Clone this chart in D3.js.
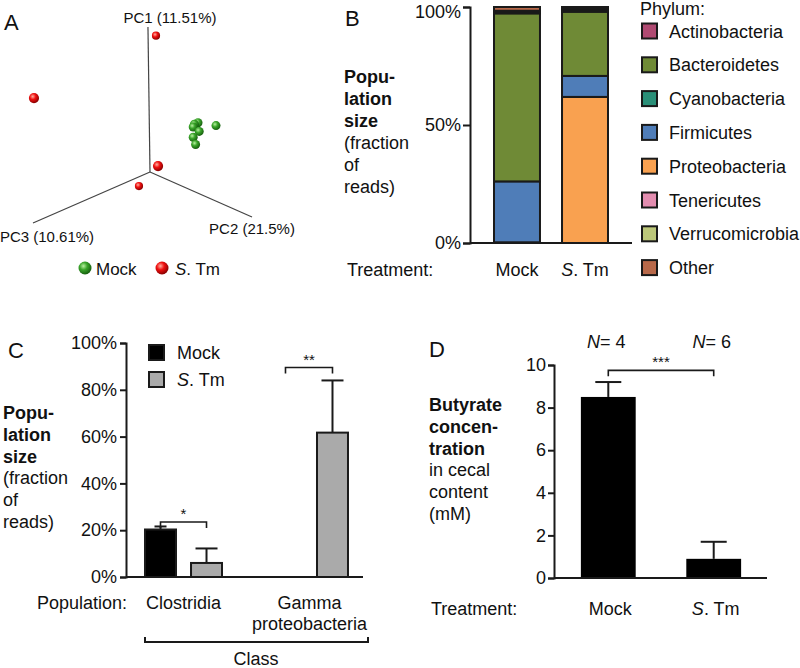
<!DOCTYPE html>
<html><head><meta charset="utf-8">
<script src="https://cdn.jsdelivr.net/npm/d3@7"></script>
<style>
body{margin:0;background:#fff;}
svg text{font-family:"Liberation Sans",Arial,sans-serif;fill:#111;}
</style></head>
<body>
<svg id="c" width="800" height="668"></svg>
<script>
// ---------- DATA ----------
// Panel A: PCoA projected coordinates (screen-plane projection, arbitrary units)
const pcAxes = [
  {name:"PC1 (11.51%)", x:-0.017, y:1.0},
  {name:"PC2 (21.5%)",  x:0.85,  y:-0.31},
  {name:"PC3 (10.61%)", x:-0.975, y:-0.352}
];
const mockPoints = [
  {x:0.40,y:0.34,d:0.5},{x:0.37,y:0.33,d:0.5},{x:0.36,y:0.31,d:0.5},
  {x:0.41,y:0.28,d:0.5},{x:0.36,y:0.24,d:0.5},{x:0.38,y:0.19,d:0.5},{x:0.55,y:0.32,d:0.5}
];
const stmPoints = [
  {x:0.05,y:0.94,d:0.3},{x:-0.967,y:0.51,d:0.8},{x:0.067,y:0.041,d:0.8},{x:-0.092,y:-0.097,d:0.3}
];
// Panel B: phylum composition (%)
const phyla = ["Actinobacteria","Bacteroidetes","Cyanobacteria","Firmicutes","Proteobacteria","Tenericutes","Verrucomicrobia","Other"];
const phylaColors = ["#b04a72","#6f8a36","#2a8f78","#4f7db8","#f9a150","#e38db0","#bcc77a","#b8694a"];
const stackOrder = ["Proteobacteria","Firmicutes","Bacteroidetes","Actinobacteria","Cyanobacteria","Tenericutes","Verrucomicrobia","Other"];
const treatments = ["Mock","S. Tm"];
const mockPhyla = {Actinobacteria:0.2,Bacteroidetes:71.2,Cyanobacteria:0.1,Firmicutes:25.8,Proteobacteria:0.3,Tenericutes:0.5,Verrucomicrobia:0.3,Other:1.6};
const stmPhyla  = {Actinobacteria:0.3,Bacteroidetes:27.2,Cyanobacteria:0.1,Firmicutes:8.9,Proteobacteria:61.9,Tenericutes:0.6,Verrucomicrobia:0.3,Other:0.7};
const bTicks = [0,50,100];
// Panel C: class population size (%)
const classes = ["Clostridia","Gamma proteobacteria"];
const cMock = [20.3, 0];
const cMockErr = [21.6, 0];
const cStm = [6.0, 61.7];
const cStmErr = [12.2, 84.0];
const cTicks = [0,20,40,60,80,100];
// Panel D: butyrate (mM)
const dMeans = [8.5, 0.9];
const dErr = [9.2, 1.7];
const dN = [4, 6];
const dTicks = [0,2,4,6,8,10];

// ---------- DRAW ----------
const svg = d3.select("#c");
const FS = 18;
const dark = "#1a1a1a";

function stmText(sel){ // append "S. Tm" with italic S
  sel.append("tspan").attr("font-style","italic").text("S");
  sel.append("tspan").text(". Tm");
}
function label(g, x, y, text, opts={}){
  const t = g.append("text").attr("x",x).attr("y",y).attr("font-size",opts.fs||FS)
    .attr("text-anchor",opts.anchor||"start");
  if(opts.bold) t.attr("font-weight","bold");
  if(text==="S. Tm") stmText(t); else t.text(text);
  return t;
}
function multiLabel(g, x, y0, lines, nBold, dy){
  lines.forEach((l,i)=>label(g,x,y0+i*dy,l,{bold:i<nBold}));
}

// gradients for spheres
const defs = svg.append("defs");
function sphereGrad(id, light, mid, darkc){
  const gr = defs.append("radialGradient").attr("id",id).attr("cx","38%").attr("cy","35%").attr("r","65%");
  gr.append("stop").attr("offset","0%").attr("stop-color",light);
  gr.append("stop").attr("offset","45%").attr("stop-color",mid);
  gr.append("stop").attr("offset","100%").attr("stop-color",darkc);
}
sphereGrad("gGreen","#b8f0a0","#3aa52a","#17600f");
sphereGrad("gRed","#ffb0a0","#f01010","#8a0000");

// ===== Panel A =====
const A = svg.append("g");
label(A, 4, 30, "A", {fs:22});
const ax = d3.scaleLinear().domain([-1,1]).range([30,270]);
const ay = d3.scaleLinear().domain([-1,1]).range([317,27]);
pcAxes.forEach(p=>{
  A.append("line").attr("x1",ax(0)).attr("y1",ay(0)).attr("x2",ax(p.x)).attr("y2",ay(p.y))
   .attr("stroke","#444").attr("stroke-width",1.2);
});
label(A, 170, 23, pcAxes[0].name, {fs:15, anchor:"middle"});
label(A, 252, 234, pcAxes[1].name, {fs:15, anchor:"middle"});
label(A, 47, 242, pcAxes[2].name, {fs:15, anchor:"middle"});
const rScale = d3.scaleLinear().domain([0,1]).range([3.5,5.5]);
A.selectAll(".gm").data(mockPoints).join("circle")
  .attr("cx",d=>ax(d.x)).attr("cy",d=>ay(d.y)).attr("r",d=>rScale(d.d)).attr("fill","url(#gGreen)");
A.selectAll(".rs").data(stmPoints).join("circle")
  .attr("cx",d=>ax(d.x)).attr("cy",d=>ay(d.y)).attr("r",d=>rScale(d.d)).attr("fill","url(#gRed)");
A.append("circle").attr("cx",85).attr("cy",268).attr("r",6.5).attr("fill","url(#gGreen)");
label(A, 96, 275, "Mock", {fs:17});
A.append("circle").attr("cx",162).attr("cy",268).attr("r",6.5).attr("fill","url(#gRed)");
label(A, 175, 275, "S. Tm", {fs:17});

// ===== Panel B =====
const B = svg.append("g");
label(B, 345, 26, "B", {fs:22});
const by = d3.scaleLinear().domain([0,100]).range([243,7]);
const bx = d3.scaleBand().domain(treatments).range([470,632]).paddingInner(0.324).paddingOuter(0.353);
multiLabel(B, 344, 83, ["Popu-","lation","size","(fraction","of","reads)"], 3, 22);
const stack = d3.stack().keys(stackOrder)([Object.assign({t:"Mock"},mockPhyla), Object.assign({t:"S. Tm"},stmPhyla)]);
const colorOf = d3.scaleOrdinal().domain(phyla).range(phylaColors);
stack.forEach(layer=>{
  B.selectAll(null).data(layer).join("rect")
    .attr("x",d=>bx(d.data.t)).attr("width",bx.bandwidth())
    .attr("y",d=>by(d[1])).attr("height",d=>Math.max(0,by(d[0])-by(d[1])))
    .attr("fill",colorOf(layer.key)).attr("stroke",dark).attr("stroke-width",2);
});
const bAxis = B.append("g").attr("transform","translate(470,0)")
  .call(d3.axisLeft(by).tickValues(bTicks).tickFormat(d=>d+"%").tickSize(7).tickPadding(2));
bAxis.selectAll(".tick text").filter(d=>d===100).attr("transform","translate(0,5)");
B.append("line").attr("x1",470).attr("x2",632).attr("y1",by(0)).attr("y2",by(0)).attr("stroke",dark).attr("stroke-width",2);
label(B, 347, 276, "Treatment:");
treatments.forEach(t=>label(B, bx(t)+bx.bandwidth()/2, 276, t, {anchor:"middle"}));
// legend
label(B, 640, 15, "Phylum:");
phyla.forEach((p,i)=>{
  const y = 31 + i*33.8;
  B.append("rect").attr("x",642).attr("y",y-7.5).attr("width",15).attr("height",15)
    .attr("fill",phylaColors[i]).attr("stroke",dark).attr("stroke-width",2);
  label(B, 669, y+6.5, p);
});

// ===== Panel C =====
const C = svg.append("g");
label(C, 8, 358, "C", {fs:22});
multiLabel(C, 3, 419, ["Popu-","lation","size","(fraction","of","reads)"], 3, 21.8);
const cy = d3.scaleLinear().domain([0,100]).range([577,343]);
const cx0 = d3.scaleBand().domain(classes).range([126,367]).paddingInner(0.373).paddingOuter(0.143);
const cx1 = d3.scaleBand().domain(treatments).range([0,cx0.bandwidth()]).paddingInner(0.283);
const cData = [];
classes.forEach((c,i)=>{
  cData.push({c, t:"Mock", v:cMock[i], e:cMockErr[i], fill:"#000", cap:12});
  cData.push({c, t:"S. Tm", v:cStm[i], e:cStmErr[i], fill:"#aaaaaa", cap:22});
});
const cBars = cData.filter(d=>d.v>0);
C.selectAll(".eb").data(cBars).join("g").each(function(d){
  const g = d3.select(this), xc = cx0(d.c)+cx1(d.t)+cx1.bandwidth()/2;
  g.append("line").attr("x1",xc).attr("x2",xc).attr("y1",cy(d.v)).attr("y2",cy(d.e)).attr("stroke",dark).attr("stroke-width",2);
  g.append("line").attr("x1",xc-d.cap/2).attr("x2",xc+d.cap/2).attr("y1",cy(d.e)).attr("y2",cy(d.e)).attr("stroke",dark).attr("stroke-width",2);
});
C.selectAll(".cb").data(cBars).join("rect")
  .attr("x",d=>cx0(d.c)+cx1(d.t)+1).attr("width",cx1.bandwidth()-2)
  .attr("y",d=>cy(d.v)).attr("height",d=>cy(0)-cy(d.v))
  .attr("fill",d=>d.fill).attr("stroke",dark).attr("stroke-width",2);
C.append("g").attr("transform","translate(126,0)")
  .call(d3.axisLeft(cy).tickValues(cTicks).tickFormat(d=>d+"%").tickSize(6).tickPadding(3));
C.append("line").attr("x1",126).attr("x2",363).attr("y1",cy(0)).attr("y2",cy(0)).attr("stroke",dark).attr("stroke-width",2);
function bracket(g, x1, x2, y, txt, ty){
  g.append("path").attr("d",`M${x1},${y+6}V${y}H${x2}V${y+6}`).attr("fill","none").attr("stroke",dark).attr("stroke-width",1.6);
  g.append("text").attr("x",(x1+x2)/2).attr("y",ty).attr("text-anchor","middle").attr("font-size",15).text(txt);
}
{
  const c0 = cx0(classes[0]), c1 = cx0(classes[1]);
  bracket(C, c0+cx1("Mock")+cx1.bandwidth()/2, c0+cx1("S. Tm")+cx1.bandwidth()/2, cy(23.5), "*", cy(23.5)-3);
  bracket(C, c1+cx1("Mock")+cx1.bandwidth()/2-1, c1+cx1("S. Tm")+cx1.bandwidth()/2, cy(89.5), "**", cy(89.5)-3);
}
// legend
C.append("rect").attr("x",149).attr("y",345).attr("width",15).attr("height",15).attr("fill","#000").attr("stroke",dark).attr("stroke-width",2);
label(C, 177, 359, "Mock");
C.append("rect").attr("x",149).attr("y",372).attr("width",15).attr("height",15).attr("fill","#aaaaaa").attr("stroke",dark).attr("stroke-width",2);
label(C, 177, 386, "S. Tm");
label(C, 37, 609, "Population:");
label(C, cx0(classes[0])+cx0.bandwidth()/2, 609, "Clostridia", {anchor:"middle"});
label(C, cx0(classes[1])+cx0.bandwidth()/2, 609, "Gamma", {anchor:"middle"});
label(C, cx0(classes[1])+cx0.bandwidth()/2, 630, "proteobacteria", {anchor:"middle"});
C.append("path").attr("d","M145,637V642H368V637").attr("fill","none").attr("stroke",dark).attr("stroke-width",2);
label(C, 256, 665, "Class", {anchor:"middle"});

// ===== Panel D =====
const D = svg.append("g");
label(D, 429, 357, "D", {fs:22});
multiLabel(D, 429, 411, ["Butyrate","concen-","tration","in cecal","content","(mM)"], 3, 21.8);
const dy = d3.scaleLinear().domain([0,10]).range([578,365]);
const dx = d3.scaleBand().domain(treatments).range([554,768]).paddingInner(0.48).paddingOuter(0.255);
treatments.forEach((t,i)=>{
  const xc = dx(t)+dx.bandwidth()/2;
  D.append("line").attr("x1",xc).attr("x2",xc).attr("y1",dy(dMeans[i])).attr("y2",dy(dErr[i])).attr("stroke",dark).attr("stroke-width",2);
  D.append("line").attr("x1",xc-13).attr("x2",xc+13).attr("y1",dy(dErr[i])).attr("y2",dy(dErr[i])).attr("stroke",dark).attr("stroke-width",2);
  const nt = D.append("text").attr("x",xc-2).attr("y",348).attr("text-anchor","middle").attr("font-size",FS);
  nt.append("tspan").attr("font-style","italic").text("N");
  nt.append("tspan").text("= "+dN[i]);
  label(D, xc+2, 615, t, {anchor:"middle"});
});
D.selectAll(".db").data(dMeans).join("rect")
  .attr("x",(d,i)=>dx(treatments[i])).attr("width",dx.bandwidth())
  .attr("y",d=>dy(d)).attr("height",d=>dy(0)-dy(d)).attr("fill","#000");
D.append("g").attr("transform","translate(554,0)")
  .call(d3.axisLeft(dy).tickValues(dTicks).tickSize(6).tickPadding(2));
D.append("line").attr("x1",554).attr("x2",767).attr("y1",dy(0)).attr("y2",dy(0)).attr("stroke",dark).attr("stroke-width",2);
bracket(D, dx("Mock")+dx.bandwidth()/2, dx("S. Tm")+dx.bandwidth()/2, dy(9.75), "***", dy(9.75)-3);
label(D, 431, 615, "Treatment:");

// axis styling
svg.selectAll(".domain").attr("stroke",dark).attr("stroke-width",2);
svg.selectAll(".tick line").attr("stroke",dark).attr("stroke-width",2);
svg.selectAll(".tick text").attr("font-size",FS).attr("fill","#111").attr("font-family","Liberation Sans, Arial, sans-serif");
</script>
</body></html>
